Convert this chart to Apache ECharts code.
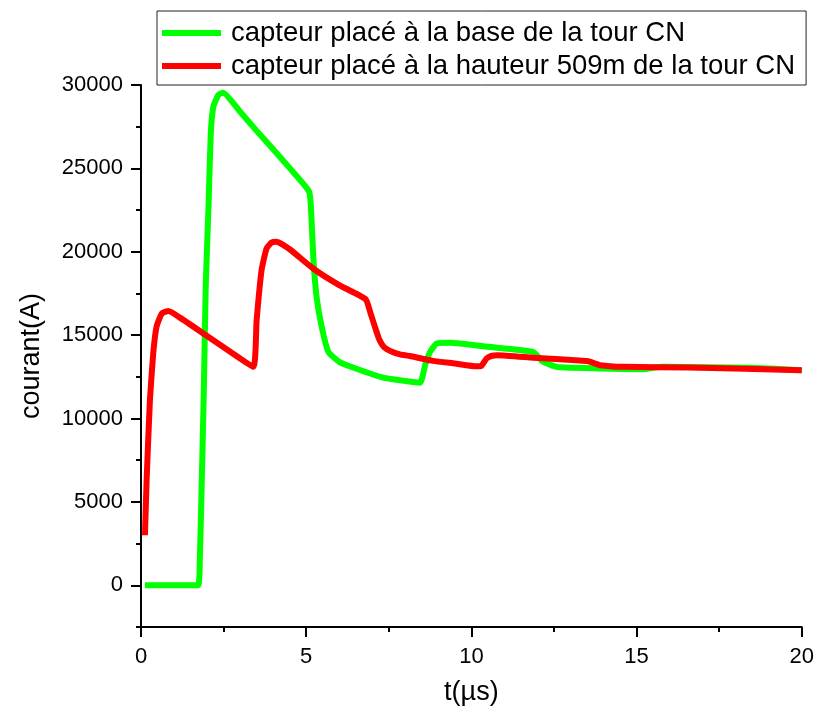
<!DOCTYPE html>
<html>
<head>
<meta charset="utf-8">
<script src="https://cdn.jsdelivr.net/npm/echarts@6/dist/echarts.min.js"></script>
<style>
  html, body { margin: 0; padding: 0; background: #fff; }
  #chart { width: 817px; height: 716px; }
</style>
</head>
<body>
<div id="chart"></div>
<script>
// Courant mesuré à la base de la tour CN (t en µs, courant en A)
const tBase = [0.12, 1.72, 1.78, 1.84, 1.90, 1.96, 2.04, 2.11, 2.19, 2.34, 2.49, 3.0, 3.5, 4.0, 4.51, 5.09,
  5.16, 5.22, 5.32, 5.47, 5.67, 6.0, 6.5, 7.33, 8.0, 8.45, 8.6, 8.75, 8.95, 9.35, 10.5, 11.87, 12.17,
  12.58, 13.0, 13.9, 15.2, 15.5, 15.8, 18.5, 20];
const iBase = [0, 0, 1500, 6300, 11500, 18000, 22500, 27000, 28700, 29400, 29540, 28400, 27250, 26150, 25000, 23600,
  22000, 19500, 17200, 15500, 14000, 13400, 13000, 12450, 12250, 12150, 13200, 14000, 14500, 14540, 14300, 14000, 13400,
  13100, 13050, 13000, 12950, 13050, 13100, 13050, 12900];

// Courant mesuré à 509 m de hauteur
const tTop = [0.12, 0.17, 0.27, 0.37, 0.47, 0.63, 0.83, 1.18, 2.0, 2.69, 3.40, 3.50, 3.65, 3.80, 3.95, 4.10, 4.5,
  5.21, 6.0, 6.8, 6.95, 7.08, 7.2, 7.35, 7.6, 7.84, 8.14, 8.84, 9.5, 10.16, 10.3, 10.46, 10.6, 10.8, 11.87,
  13.49, 13.6, 13.9, 14.6, 16.6, 20];
const iTop = [3000, 6300, 11100, 13900, 15500, 16300, 16450, 16050, 14950, 14020, 13100, 15900, 18900, 20200, 20550, 20600, 20150,
  19000, 18000, 17150, 16300, 15500, 14800, 14300, 14000, 13850, 13750, 13460, 13300, 13130, 13150, 13600, 13750, 13800, 13650,
  13450, 13400, 13200, 13100, 13060, 12900];

const seriesNames = ['capteur placé à la base de la tour CN', 'capteur placé à la hauteur 509m de la tour CN'];
const yMajorTicks = [0, 5000, 10000, 15000, 20000, 25000, 30000];
const yMinorTicks = [-2500, 2500, 7500, 12500, 17500, 22500, 27500];

const pairs = (t, v) => t.map((x, i) => [x, v[i]]);

const FONT = "'Liberation Sans', Arial, sans-serif";
const axisLineStyle = { color: '#000', width: 2 };

const chart = echarts.init(document.getElementById('chart'), null, { renderer: 'canvas' });
chart.setOption({
  animation: false,
  backgroundColor: '#fff',
  grid: { left: 141, right: 13, top: 85, bottom: 89, containLabel: false },
  legend: {
    left: 157, top: 11,
    orient: 'vertical',
    borderColor: '#222', borderWidth: 1, borderRadius: 0,
    padding: [8, 11, 5, 5],
    itemGap: 5,
    itemWidth: 59, itemHeight: 6,
    icon: 'rect',
    textStyle: { fontSize: 27.5, lineHeight: 28, fontFamily: FONT, color: '#000', padding: [0, 0, 0, 5] },
    data: seriesNames
  },
  xAxis: {
    type: 'value', min: 0, max: 20, interval: 5,
    name: 't(µs)', nameLocation: 'middle', nameGap: 52,
    nameTextStyle: { fontSize: 27, fontFamily: FONT, color: '#000' },
    axisLine: { show: true, onZero: false, lineStyle: axisLineStyle },
    axisTick: { show: true, inside: false, length: 10, lineStyle: { color: '#000', width: 2 } },
    minorTick: { show: true, splitNumber: 2, length: 5, lineStyle: { color: '#000', width: 2 } },
    axisLabel: { fontSize: 22, fontFamily: FONT, color: '#000', margin: 19, formatter: v => String(v) },
    splitLine: { show: false }, minorSplitLine: { show: false }
  },
  yAxis: [
    {
      type: 'value', min: -2500, max: 30000, position: 'left',
      name: 'courant(A)', nameLocation: 'middle', nameGap: 96,
      nameTextStyle: { fontSize: 27, fontFamily: FONT, color: '#000' },
      axisLine: { show: true, onZero: false, lineStyle: axisLineStyle },
      axisTick: { show: true, inside: false, length: 10, customValues: yMajorTicks, lineStyle: { color: '#000', width: 2 } },
      axisLabel: { fontSize: 22, fontFamily: FONT, color: '#000', margin: 18, customValues: yMajorTicks, formatter: v => String(v) },
      splitLine: { show: false }
    },
    {
      type: 'value', min: -2500, max: 30000, position: 'left', offset: 0,
      axisLine: { show: false },
      axisTick: { show: true, inside: false, length: 5, customValues: yMinorTicks, lineStyle: { color: '#000', width: 2 } },
      axisLabel: { show: false },
      splitLine: { show: false }
    }
  ],
  series: [
    {
      name: seriesNames[0], type: 'line', data: pairs(tBase, iBase),
      showSymbol: false, symbol: 'none', smooth: 0.15,
      color: '#00ff00',
      lineStyle: { color: '#00ff00', width: 6, cap: 'butt', join: 'round' },
      z: 2
    },
    {
      name: seriesNames[1], type: 'line', data: pairs(tTop, iTop),
      showSymbol: false, symbol: 'none', smooth: 0.15,
      color: '#ff0000',
      lineStyle: { color: '#ff0000', width: 6, cap: 'butt', join: 'round' },
      z: 3
    }
  ]
});
</script>
</body>
</html>
